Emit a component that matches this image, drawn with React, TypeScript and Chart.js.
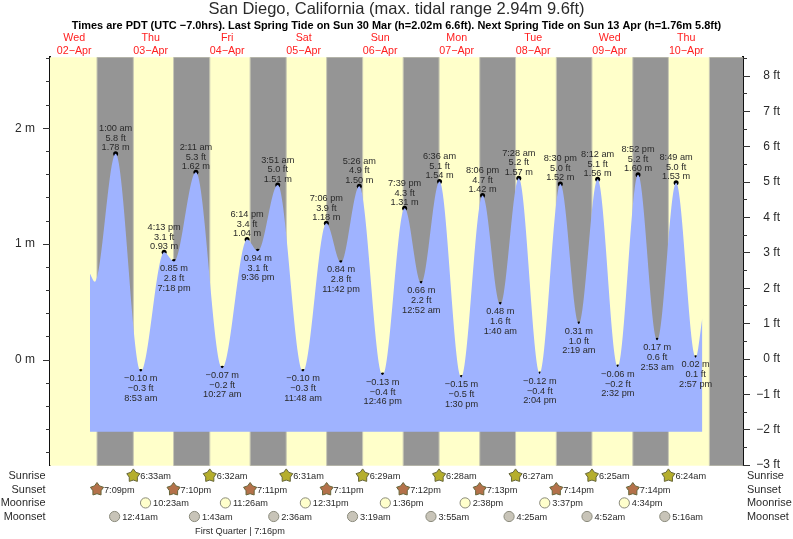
import React, { useEffect, useRef } from "react";
import { Chart, registerables } from "chart.js";

Chart.register(...registerables);

const FONT = '"Liberation Sans", Arial, sans-serif';
const TITLE = "San Diego, California (max. tidal range 2.94m 9.6ft)";
const SUBTITLE =
  "Times are PDT (UTC \u22127.0hrs). Last Spring Tide on Sun 30 Mar (h=2.02m 6.6ft). Next Spring Tide on Sun 13 Apr (h=1.76m 5.8ft)";

// all times are hours after 00:00 on Wed 02-Apr
const h = (day: number, hour: number, minute: number) => (day - 2) * 24 + hour + minute / 60;

const dayNames = ["Wed", "Thu", "Fri", "Sat", "Sun", "Mon", "Tue", "Wed", "Thu"];
const dayDates = ["02\u2212Apr", "03\u2212Apr", "04\u2212Apr", "05\u2212Apr", "06\u2212Apr", "07\u2212Apr", "08\u2212Apr", "09\u2212Apr", "10\u2212Apr"];
const dayNoons = [12, 36, 60, 84, 108, 132, 156, 180, 204];

const tideTimes = [
  h(3, 1, 0), h(3, 8, 53), h(3, 16, 13), h(3, 19, 18),
  h(4, 2, 11), h(4, 10, 27), h(4, 18, 14), h(4, 21, 36),
  h(5, 3, 51), h(5, 11, 48), h(5, 19, 6), h(5, 23, 42),
  h(6, 5, 26), h(6, 12, 46), h(6, 19, 39),
  h(7, 0, 52), h(7, 6, 36), h(7, 13, 30), h(7, 20, 6),
  h(8, 1, 40), h(8, 7, 28), h(8, 14, 4), h(8, 20, 30),
  h(9, 2, 19), h(9, 8, 12), h(9, 14, 32), h(9, 20, 52),
  h(10, 2, 53), h(10, 8, 49), h(10, 14, 57),
];
const tideMetres = [
  1.78, -0.10, 0.93, 0.85,
  1.62, -0.07, 1.04, 0.94,
  1.51, -0.10, 1.18, 0.84,
  1.50, -0.13, 1.31,
  0.66, 1.54, -0.15, 1.42,
  0.48, 1.57, -0.12, 1.52,
  0.31, 1.56, -0.06, 1.60,
  0.17, 1.53, 0.02,
];
const tideFeet = [
  "5.8", "\u22120.3", "3.1", "2.8",
  "5.3", "\u22120.2", "3.4", "3.1",
  "5.0", "\u22120.3", "3.9", "2.8",
  "4.9", "\u22120.4", "4.3",
  "2.2", "5.1", "\u22120.5", "4.7",
  "1.6", "5.2", "\u22120.4", "5.0",
  "1.0", "5.1", "\u22120.2", "5.2",
  "0.6", "5.0", "0.1",
];
const tideClock = [
  "1:00 am", "8:53 am", "4:13 pm", "7:18 pm",
  "2:11 am", "10:27 am", "6:14 pm", "9:36 pm",
  "3:51 am", "11:48 am", "7:06 pm", "11:42 pm",
  "5:26 am", "12:46 pm", "7:39 pm",
  "12:52 am", "6:36 am", "1:30 pm", "8:06 pm",
  "1:40 am", "7:28 am", "2:04 pm", "8:30 pm",
  "2:19 am", "8:12 am", "2:32 pm", "8:52 pm",
  "2:53 am", "8:49 am", "2:57 pm",
];
const tideIsHigh = [
  true, false, true, false,
  true, false, true, false,
  true, false, true, false,
  true, false, true,
  false, true, false, true,
  false, true, false, true,
  false, true, false, true,
  false, true, false,
];
// where the drawn curve starts and ends, beyond the labelled turning points
const curveStartTimes = [16.95, 18.5];
const curveStartMetres = [0.745, 0.675];
const curveEndTimes = [209.05];
const curveEndMetres = [0.36];
const FILL_FLOOR_M = -0.619;

const sunriseTimes = [h(3, 6, 33), h(4, 6, 32), h(5, 6, 31), h(6, 6, 29), h(7, 6, 28), h(8, 6, 27), h(9, 6, 25), h(10, 6, 24)];
const sunriseText = ["6:33am", "6:32am", "6:31am", "6:29am", "6:28am", "6:27am", "6:25am", "6:24am"];
const sunsetTimes = [h(2, 19, 9), h(3, 19, 10), h(4, 19, 11), h(5, 19, 11), h(6, 19, 12), h(7, 19, 13), h(8, 19, 14), h(9, 19, 14)];
const sunsetText = ["7:09pm", "7:10pm", "7:11pm", "7:11pm", "7:12pm", "7:13pm", "7:14pm", "7:14pm"];
const lastSunset = h(10, 19, 15);
const moonriseTimes = [h(3, 10, 23), h(4, 11, 26), h(5, 12, 31), h(6, 13, 36), h(7, 14, 38), h(8, 15, 37), h(9, 16, 34)];
const moonriseText = ["10:23am", "11:26am", "12:31pm", "1:36pm", "2:38pm", "3:37pm", "4:34pm"];
const moonsetTimes = [h(3, 0, 41), h(4, 1, 43), h(5, 2, 36), h(6, 3, 19), h(7, 3, 55), h(8, 4, 25), h(9, 4, 52), h(10, 5, 16)];
const moonsetText = ["12:41am", "1:43am", "2:36am", "3:19am", "3:55am", "4:25am", "4:52am", "5:16am"];
const moonPhaseText = "First Quarter | 7:16pm";
const moonPhaseLabelTime = 64;

const metreLabels = [0, 1, 2];
const metreMinor = [-0.8, -0.6, -0.4, -0.2, 0, 0.2, 0.4, 0.6, 0.8, 1, 1.2, 1.4, 1.6, 1.8, 2, 2.2, 2.4, 2.6];
const feetLabels = [-3, -2, -1, 0, 1, 2, 3, 4, 5, 6, 7, 8];
const feetMinor = [-2.5, -1.5, -0.5, 0.5, 1.5, 2.5, 3.5, 4.5, 5.5, 6.5, 7.5, 8.5];

const TEXT = "#2a2a2a";
const YELLOW = "#FFFFCA";
const GREY = "#959595";
const BLUE = "#9FB3FF";

const minus = (s: string) => s.replace("-", "\u2212");

function star(ctx: CanvasRenderingContext2D, x: number, y: number, fill: string) {
  ctx.beginPath();
  for (let i = 0; i < 10; i++) {
    const r = i % 2 === 0 ? 6.9 : 4.3;
    const a = -Math.PI / 2 + (i * Math.PI) / 5;
    const px = x + r * Math.cos(a);
    const py = y + 0.8 + r * Math.sin(a);
    if (i === 0) ctx.moveTo(px, py);
    else ctx.lineTo(px, py);
  }
  ctx.closePath();
  ctx.fillStyle = fill;
  ctx.fill();
  ctx.strokeStyle = "#66663a";
  ctx.lineWidth = 1;
  ctx.stroke();
}

function disc(ctx: CanvasRenderingContext2D, x: number, y: number, fill: string) {
  ctx.beginPath();
  ctx.arc(x, y, 5.1, 0, Math.PI * 2);
  ctx.fillStyle = fill;
  ctx.fill();
  ctx.strokeStyle = "#8a8a7c";
  ctx.lineWidth = 1;
  ctx.stroke();
}

const backgroundPlugin = {
  id: "dayNight",
  beforeDatasetsDraw(chart: any) {
    const { ctx, chartArea: a, scales } = chart;
    const xs = scales.x;
    ctx.save();
    ctx.fillStyle = YELLOW;
    ctx.fillRect(a.left, a.top, a.right - a.left, a.bottom - a.top);
    const sets = [...sunsetTimes, lastSunset];
    sets.forEach((s, i) => {
      const x0 = xs.getPixelForValue(s);
      const x1 = i < sunriseTimes.length ? xs.getPixelForValue(sunriseTimes[i]) : a.right;
      ctx.fillStyle = GREY;
      ctx.fillRect(x0, a.top, Math.min(x1, a.right) - x0, a.bottom - a.top);
      ctx.fillStyle = "#C8C8B4";
      ctx.fillRect(x0 - 0.5, a.top, 1, a.bottom - a.top);
      if (x1 < a.right) ctx.fillRect(x1 - 0.5, a.top, 1, a.bottom - a.top);
    });
    ctx.restore();
  },
};

const annotationPlugin = {
  id: "annotations",
  afterDraw(chart: any) {
    const { ctx, chartArea: a, scales } = chart;
    const xs = scales.x;
    const ym = scales.y;
    const yf = scales.y2;
    ctx.save();

    // axis tick marks
    ctx.strokeStyle = "#333";
    ctx.lineWidth = 1;
    const tick = (x0: number, x1: number, y: number) => {
      const py = Math.floor(y) + 0.5;
      ctx.beginPath();
      ctx.moveTo(x0, py);
      ctx.lineTo(x1, py);
      ctx.stroke();
    };
    metreMinor.forEach((v) => tick(a.left - 4, a.left, ym.getPixelForValue(v)));
    metreLabels.forEach((v) => tick(a.left - 7, a.left, ym.getPixelForValue(v)));
    feetMinor.forEach((v) => tick(a.right, a.right + 4, yf.getPixelForValue(v)));
    feetLabels.forEach((v) => tick(a.right, a.right + 7, yf.getPixelForValue(v)));

    // turning point labels
    ctx.fillStyle = TEXT;
    ctx.font = `9.2px ${FONT}`;
    ctx.textAlign = "center";
    ctx.textBaseline = "middle";
    tideTimes.forEach((t, i) => {
      const x = xs.getPixelForValue(t);
      const y = ym.getPixelForValue(tideMetres[i]);
      const m = `${minus(tideMetres[i].toFixed(2))} m`;
      const f = `${tideFeet[i]} ft`;
      if (tideIsHigh[i]) {
        ctx.fillText(tideClock[i], x, y - 25);
        ctx.fillText(f, x, y - 15.3);
        ctx.fillText(m, x, y - 6);
      } else {
        ctx.fillText(m, x, y + 7.1);
        ctx.fillText(f, x, y + 17.1);
        ctx.fillText(tideClock[i], x, y + 26.7);
      }
    });

    // sun and moon rows
    const rows = [
      { name: "Sunrise", y: 476.4, times: sunriseTimes, text: sunriseText, kind: "#B5AE2C", isStar: true },
      { name: "Sunset", y: 490, times: sunsetTimes, text: sunsetText, kind: "#B4714A", isStar: true },
      { name: "Moonrise", y: 503.4, times: moonriseTimes, text: moonriseText, kind: "#FFFFCC", isStar: false },
      { name: "Moonset", y: 517, times: moonsetTimes, text: moonsetText, kind: "#C8C4B8", isStar: false },
    ];
    rows.forEach((r) => {
      ctx.font = `10.9px ${FONT}`;
      ctx.fillStyle = TEXT;
      ctx.textAlign = "right";
      ctx.fillText(r.name, a.left - 4.5, r.y);
      ctx.textAlign = "left";
      ctx.fillText(r.name, a.right + 4, r.y);
      ctx.font = `9.2px ${FONT}`;
      r.times.forEach((t, i) => {
        const x = xs.getPixelForValue(t);
        if (r.isStar) star(ctx, x, r.y - 1.4, r.kind);
        else disc(ctx, x, r.y - 0.5, r.kind);
        ctx.fillStyle = TEXT;
        ctx.textAlign = "left";
        ctx.fillText(r.text[i], x + (r.isStar ? 7 : 7.5), r.y);
      });
    });
    ctx.font = `9.2px ${FONT}`;
    ctx.textAlign = "center";
    ctx.fillStyle = TEXT;
    ctx.fillText(moonPhaseText, xs.getPixelForValue(moonPhaseLabelTime), 531.4);
    ctx.restore();
  },
};

export default function App() {
  const ref = useRef<HTMLCanvasElement>(null);
  useEffect(() => {
    document.body.style.margin = "0";
    const curve = [
      ...curveStartTimes.map((x, i) => ({ x, y: curveStartMetres[i] })),
      ...tideTimes.map((x, i) => ({ x, y: tideMetres[i] })),
      ...curveEndTimes.map((x, i) => ({ x, y: curveEndMetres[i] })),
    ];
    const chart = new Chart(ref.current as HTMLCanvasElement, {
      type: "line",
      data: {
        datasets: [
          {
            label: "Tide height",
            data: curve,
            cubicInterpolationMode: "monotone",
            borderWidth: 0,
            borderColor: BLUE,
            backgroundColor: BLUE,
            pointRadius: 0,
            fill: { value: FILL_FLOOR_M },
            yAxisID: "y",
          },
          {
            label: "High and low water",
            data: tideTimes.map((x, i) => ({ x, y: tideMetres[i] })),
            showLine: false,
            pointRadius: 2.5,
            pointBorderWidth: 0,
            pointBackgroundColor: "#000",
            yAxisID: "y",
          },
        ],
      },
      options: {
        responsive: false,
        animation: false,
        devicePixelRatio: 1,
        layout: { padding: { top: 0, left: 13, right: 13, bottom: 73.3 } },
        plugins: {
          legend: { display: false },
          tooltip: { enabled: false },
          title: {
            display: true,
            text: TITLE,
            color: TEXT,
            font: { family: FONT, size: 16.5, weight: "normal", lineHeight: 1.15 },
            padding: 0,
          },
          subtitle: {
            display: true,
            text: SUBTITLE,
            color: "#000",
            font: { family: FONT, size: 10.95, weight: "bold", lineHeight: 1.2 },
            padding: 0,
          },
        },
        scales: {
          x: {
            type: "linear",
            position: "top",
            min: 4.41,
            max: 221.8,
            grid: { display: false, drawTicks: false },
            border: { display: false },
            afterBuildTicks: (s: any) => {
              s.ticks = dayNoons.map((value) => ({ value }));
            },
            afterFit: (s: any) => {
              s.height = 57.3 - 16.5 * 1.15 - 10.95 * 1.2;
            },
            ticks: {
              autoSkip: false,
              maxRotation: 0,
              padding: 0,
              color: "#FF2020",
              font: { family: FONT, size: 10.7, lineHeight: 1.2 },
              callback: (v: any) => {
                const i = dayNoons.indexOf(v);
                return i >= 0 ? [dayNames[i], dayDates[i]] : "";
              },
            },
          },
          y: {
            type: "linear",
            position: "left",
            min: -0.912,
            max: 2.613,
            afterBuildTicks: (s: any) => {
              s.ticks = metreLabels.map((value) => ({ value }));
            },
            afterFit: (s: any) => {
              s.width = 37;
            },
            grid: { drawOnChartArea: false, drawTicks: false },
            border: { display: true, color: "#111", width: 2 },
            ticks: {
              padding: 15,
              color: TEXT,
              font: { family: FONT, size: 12 },
              callback: (v: any) => `${v} m`,
            },
          },
          y2: {
            type: "linear",
            position: "right",
            min: -3.016,
            max: 8.53,
            afterBuildTicks: (s: any) => {
              s.ticks = feetLabels.map((value) => ({ value }));
            },
            afterFit: (s: any) => {
              s.width = 37;
            },
            grid: { drawOnChartArea: false, drawTicks: false },
            border: { display: true, color: "#111", width: 2 },
            ticks: {
              padding: 2,
              crossAlign: "far",
              color: TEXT,
              font: { family: FONT, size: 12 },
              callback: (v: any) => `${minus(String(v))} ft`,
            },
          },
        },
      },
      plugins: [backgroundPlugin, annotationPlugin],
    } as any);
    return () => chart.destroy();
  }, []);
  return (
    <canvas
      ref={ref}
      width={793}
      height={539}
      style={{ position: "absolute", left: 0, top: 0, width: 793, height: 539 }}
    />
  );
}
